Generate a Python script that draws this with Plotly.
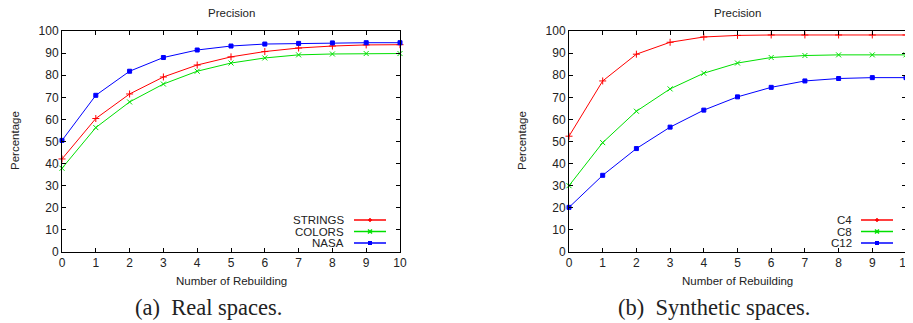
import plotly.graph_objects as go

# page body has an 8px margin: figure is drawn at (8, 8) in the window
OFF = 8
W, H = 913 - OFF, 323 - OFF

rebuild = list(range(11))
x_ticks = list(range(11))
y_ticks = list(range(0, 101, 10))

strings = [42.1, 60.4, 71.5, 79.2, 84.6, 88.3, 90.7, 92.3, 93.2, 93.7, 93.8]
colors_ = [37.9, 56.3, 67.9, 76.0, 81.8, 85.5, 87.8, 89.2, 89.6, 89.8, 89.8]
nasa = [50.5, 70.9, 81.8, 88.0, 91.4, 93.2, 94.1, 94.4, 94.6, 94.7, 94.7]

c4 = [52.4, 77.4, 89.5, 94.9, 97.3, 98.0, 98.2, 98.2, 98.2, 98.2, 98.2]
c8 = [30.0, 49.5, 63.7, 73.8, 80.9, 85.5, 88.0, 88.9, 89.2, 89.2, 89.2]
c12 = [20.2, 34.7, 46.8, 56.5, 64.2, 70.2, 74.5, 77.4, 78.5, 78.9, 78.9]

left_names = ["STRINGS", "COLORS", "NASA"]
right_names = ["C4", "C8", "C12"]
titles = ["Precision", "Precision"]
captions = ["(a)  Real spaces.", "(b)  Synthetic spaces."]
x_title = "Number of Rebuilding"
y_title = "Percentage"

RED, GREEN, BLUE = "#ff0000", "#00e000", "#0000ff"
line_colors = [RED, GREEN, BLUE]
symbols = ["cross-thin-open", "x-thin-open", "square"]
FONT = "Liberation Sans, Arial, sans-serif"
TXT = 11.5


def px(x):
    return (x - OFF) / W


def py(y):
    return 1 - (y - OFF) / H


fig = go.Figure()
fig.update_layout(template="none")

left_series = [strings, colors_, nasa]
right_series = [c4, c8, c12]

for i, (name, ys) in enumerate(zip(left_names, left_series)):
    fig.add_trace(go.Scatter(
        x=rebuild, y=ys, name=name, mode="lines+markers",
        line=dict(color=line_colors[i], width=1),
        marker=dict(symbol=symbols[i], size=5 if i < 2 else 4,
                    color=line_colors[i], line=dict(color=line_colors[i], width=1)),
        xaxis="x", yaxis="y", showlegend=False, cliponaxis=False))

for i, (name, ys) in enumerate(zip(right_names, right_series)):
    fig.add_trace(go.Scatter(
        x=rebuild, y=ys, name=name, mode="lines+markers",
        line=dict(color=line_colors[i], width=1),
        marker=dict(symbol=symbols[i], size=5 if i < 2 else 4,
                    color=line_colors[i], line=dict(color=line_colors[i], width=1)),
        xaxis="x2", yaxis="y2", showlegend=False, cliponaxis=False))

plot_top, plot_bot = 31, 252
left_dom = (62, 400)
right_dom = (569, 906)

axis_common = dict(
    showline=True, linecolor="black", linewidth=1, mirror="ticks",
    ticks="inside", ticklen=4, tickwidth=1, tickcolor="black",
    showgrid=False, zeroline=False, automargin=False,
    tickfont=dict(family=FONT, size=12, color="#222"),
)

fig.update_layout(
    width=W, height=H,
    margin=dict(l=0, r=0, t=0, b=0, pad=0, autoexpand=False),
    paper_bgcolor="white", plot_bgcolor="white",
    showlegend=False,
    xaxis=dict(domain=[px(left_dom[0]), px(left_dom[1])], range=[0, 10],
               tickvals=x_ticks, anchor="y", **axis_common),
    yaxis=dict(domain=[py(plot_bot), py(plot_top)], range=[0, 100],
               tickvals=y_ticks, anchor="x", **axis_common),
    xaxis2=dict(domain=[px(right_dom[0]), px(right_dom[1])], range=[0, 10],
                tickvals=x_ticks, anchor="y2", **axis_common),
    yaxis2=dict(domain=[py(plot_bot), py(plot_top)], range=[0, 100],
                tickvals=y_ticks, anchor="x2", **axis_common),
)

annotations = []
shapes = []
for k, (dom, ytx) in enumerate([(left_dom, 15), (right_dom, 522)]):
    cx = (dom[0] + dom[1]) / 2
    annotations.append(dict(text=titles[k], x=px(cx), y=py(13), xref="paper", yref="paper",
                            showarrow=False, xanchor="center", yanchor="middle",
                            font=dict(family=FONT, size=TXT, color="#222")))
    annotations.append(dict(text=x_title, x=px(cx), y=py(281), xref="paper", yref="paper",
                            showarrow=False, xanchor="center", yanchor="middle",
                            font=dict(family=FONT, size=TXT, color="#222")))
    annotations.append(dict(text=y_title, x=px(ytx), y=py(141), xref="paper", yref="paper",
                            showarrow=False, xanchor="center", yanchor="middle", textangle=-90,
                            font=dict(family=FONT, size=TXT, color="#222")))
    cap_cx = 208 if k == 0 else 714
    annotations.append(dict(text=captions[k], x=px(cap_cx), y=py(307), xref="paper", yref="paper",
                            showarrow=False, xanchor="center", yanchor="middle",
                            font=dict(family="Liberation Serif, Times New Roman, serif", size=22.5,
                                      color="#222")))

# legends (text on the left, sample on the right, as in gnuplot)
legend_rows = [220, 231.5, 243]
for names, text_right, line_x0, line_x1 in [(left_names, 346, 354, 386),
                                             (right_names, 854, 861, 893)]:
    for i, name in enumerate(names):
        yy = legend_rows[i]
        annotations.append(dict(text=name, x=px(text_right), y=py(yy), xref="paper", yref="paper",
                                showarrow=False, xanchor="right", yanchor="middle",
                                font=dict(family=FONT, size=TXT, color="#222")))
        c = line_colors[i]
        shapes.append(dict(type="line", xref="paper", yref="paper",
                           x0=px(line_x0), x1=px(line_x1), y0=py(yy), y1=py(yy),
                           line=dict(color=c, width=1.5)))
        mx = (line_x0 + line_x1) / 2
        r = 2
        if i == 0:
            path = (f"M {px(mx - r)} {py(yy)} L {px(mx + r)} {py(yy)} "
                    f"M {px(mx)} {py(yy - r)} L {px(mx)} {py(yy + r)}")
            shapes.append(dict(type="path", xref="paper", yref="paper", path=path,
                               line=dict(color=c, width=1.5)))
        elif i == 1:
            path = (f"M {px(mx - r)} {py(yy - r)} L {px(mx + r)} {py(yy + r)} "
                    f"M {px(mx - r)} {py(yy + r)} L {px(mx + r)} {py(yy - r)}")
            shapes.append(dict(type="path", xref="paper", yref="paper", path=path,
                               line=dict(color=c, width=1.5)))
        else:
            shapes.append(dict(type="rect", xref="paper", yref="paper",
                               x0=px(mx - r), x1=px(mx + r), y0=py(yy + r), y1=py(yy - r),
                               fillcolor=c, line=dict(color=c, width=0)))

fig.update_layout(annotations=annotations, shapes=shapes)

fig.write_html("out.html")
